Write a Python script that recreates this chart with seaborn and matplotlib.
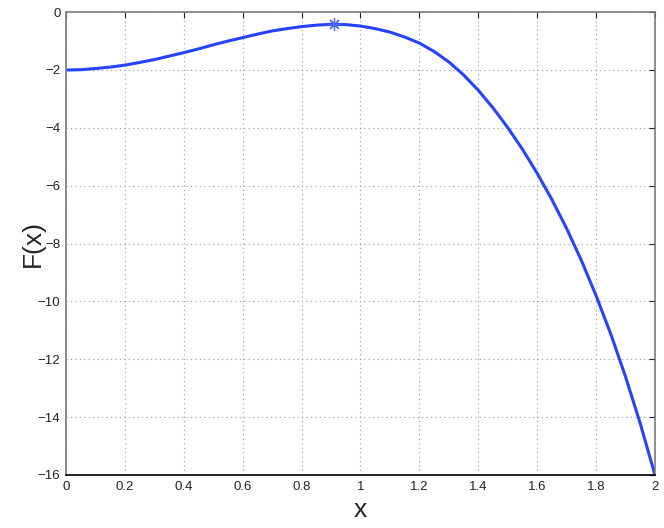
import numpy as np
import pandas as pd
import matplotlib
matplotlib.use("Agg")
import matplotlib.pyplot as plt
import seaborn as sns

# values
x_vals = [0.00, 0.05, 0.10, 0.15, 0.20, 0.25, 0.30, 0.35, 0.40, 0.45,
          0.50, 0.55, 0.60, 0.65, 0.70, 0.75, 0.80, 0.85, 0.90, 0.95,
          1.00, 1.05, 1.10, 1.15, 1.20, 1.25, 1.30, 1.35, 1.40, 1.45,
          1.50, 1.55, 1.60, 1.65, 1.70, 1.75, 1.80, 1.85, 1.90, 1.95, 2.00]
f_vals = [-2.00, -1.99, -1.95, -1.90, -1.83, -1.74, -1.64, -1.52, -1.40, -1.27,
          -1.13, -1.00, -0.88, -0.76, -0.65, -0.57, -0.50, -0.45, -0.42, -0.43,
          -0.48, -0.57, -0.69, -0.86, -1.07, -1.36, -1.72, -2.17, -2.70, -3.31,
          -3.99, -4.74, -5.57, -6.48, -7.48, -8.58, -9.80, -11.13, -12.60, -14.22, -16.00]
peak_x = [0.91]
peak_f = [-0.41]

x_ticks = [0, 0.2, 0.4, 0.6, 0.8, 1, 1.2, 1.4, 1.6, 1.8, 2]
x_ticklabels = ["0", "0.2", "0.4", "0.6", "0.8", "1", "1.2", "1.4", "1.6", "1.8", "2"]
y_ticks = [0, -2, -4, -6, -8, -10, -12, -14, -16]

sns.set_style("white")
plt.rcParams['font.family'] = ['Liberation Sans', 'DejaVu Sans']

df = pd.DataFrame({"x": x_vals, "F": f_vals})

fig = plt.figure(figsize=(6.64, 5.28), dpi=100)
ax = fig.add_axes([0.0994, 0.1004, 0.887, 0.8766])

sns.lineplot(data=df, x="x", y="F", color="#2443ff", linewidth=2.2, ax=ax)
ax.plot(peak_x, peak_f, linestyle="none", marker=(8, 2, 0), markersize=9,
        markeredgewidth=0.9, color="#4a66ff")

ax.set_xlim(0, 2)
ax.set_ylim(-16, 0)
ax.set_xticks(x_ticks)
ax.set_xticklabels(x_ticklabels)
ax.set_yticks(y_ticks)
ax.set_yticklabels([str(v).replace("-", "\u2212") for v in y_ticks])

ax.grid(True, linestyle=(0, (1, 3)), color="#9a9a9a", linewidth=0.8)
ax.tick_params(direction="in", length=4, width=0.8, top=True, right=True,
               labelsize=9.5, colors="#222222", pad=4)
for side in ["top", "right", "left"]:
    ax.spines[side].set_color("#7a7a7a")
    ax.spines[side].set_linewidth(1.2)
ax.spines["bottom"].set_color("black")
ax.spines["bottom"].set_linewidth(1.2)

ax.set_xlabel("x", fontsize=19, labelpad=4)
ax.set_ylabel("F(x)", fontsize=19, labelpad=-5)

fig.savefig("out.png", dpi=100)
